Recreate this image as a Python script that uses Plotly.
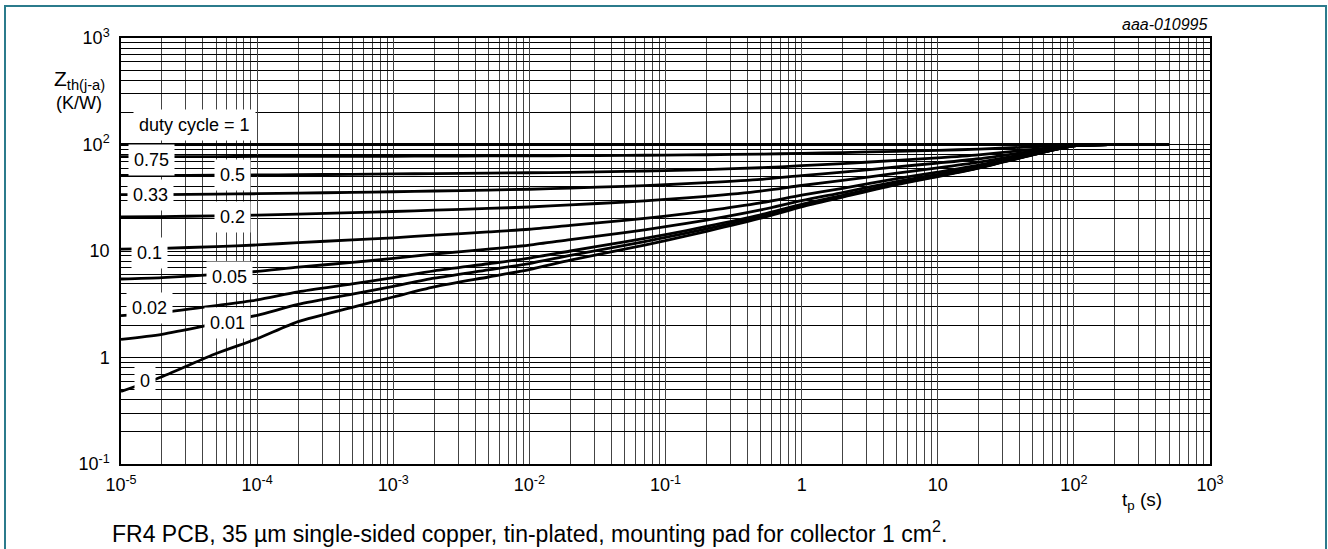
import plotly.graph_objects as go

# ---- data (pulse duration t_p in s, Zth in K/W) ----
t_p = [1e-5, 2e-5, 5e-5, 1e-4, 2e-4, 5e-4, 1e-3, 2e-3, 5e-3, 1e-2, 2e-2, 5e-2,
       0.1, 0.2, 0.5, 1, 2, 5, 10, 20, 50, 100, 200, 500]

z_duty_1 = [100] * 24
z_duty_075 = [77, 77, 77.1, 77.2, 77.3, 77.5, 77.6, 77.8, 78.1, 78.3, 78.6, 79.1,
              79.5, 80.1, 81.3, 82.6, 84, 86.3, 88.2, 90.5, 95.2, 99.3, 100, 100]
z_duty_05 = [51.2, 51.3, 51.5, 51.8, 52.1, 52.5, 52.9, 53.3, 53.8, 54.3, 54.8, 55.9,
             56.9, 58.2, 60.5, 63.2, 66.1, 71, 75, 80, 90, 98.5, 100, 100]
z_duty_033 = [33.8, 33.9, 34.2, 34.5, 35.0, 35.5, 36.0, 36.6, 37.3, 38.0, 39.0, 40.5,
              41.9, 43.8, 47.0, 51, 55, 61.6, 67, 73.5, 86.8, 98, 100, 100]
z_duty_02 = [20.9, 21.0, 21.4, 21.7, 22.2, 22.9, 23.5, 24.2, 25.1, 25.9, 27.1, 28.8,
             30.5, 32.6, 36.5, 41.2, 46, 53.8, 60.2, 68.2, 84, 97.6, 100, 100]
z_duty_01 = [10.4, 10.6, 11.0, 11.4, 12.0, 12.7, 13.3, 14.1, 15.1, 16.0, 17.4, 19.4,
             21.25, 23.8, 28.3, 33.4, 38.8, 47.8, 55, 64, 82, 97.3, 100, 100]
z_duty_005 = [5.46, 5.63, 6.04, 6.43, 7.06, 7.81, 8.52, 9.37, 10.42, 11.37, 12.8, 14.9,
              16.9, 19.5, 24.3, 29.7, 35.4, 44.9, 52.5, 62, 81, 97.15, 100, 100]
z_duty_002 = [2.47, 2.65, 3.07, 3.47, 4.13, 4.90, 5.63, 6.51, 7.59, 8.57, 10.0, 12.2,
              14.25, 17.0, 21.9, 27.48, 33.36, 43.16, 51, 60.8, 80.4, 97.06, 100, 100]
z_duty_001 = [1.48, 1.65, 2.08, 2.49, 3.15, 3.93, 4.66, 5.55, 6.64, 7.63, 9.1, 11.3,
              13.4, 16.1, 21.1, 26.74, 32.68, 42.58, 50.5, 60.4, 80.2, 97.03, 100, 100]
z_duty_0 = [0.48, 0.66, 1.09, 1.5, 2.17, 2.96, 3.7, 4.6, 5.7, 6.7, 8.2, 10.4,
            12.5, 15.3, 20.3, 26, 32, 42, 50, 60, 80, 97, 100, 100]

series_names = ["duty cycle = 1", "0.75", "0.5", "0.33", "0.2", "0.1", "0.05", "0.02", "0.01", "0"]
series_values = [z_duty_1, z_duty_075, z_duty_05, z_duty_033, z_duty_02, z_duty_01,
                 z_duty_005, z_duty_002, z_duty_001, z_duty_0]

x_tick_vals = [1e-5, 1e-4, 1e-3, 1e-2, 1e-1, 1, 10, 100, 1000]
x_tick_text = ["10<sup>-5</sup>", "10<sup>-4</sup>", "10<sup>-3</sup>", "10<sup>-2</sup>",
               "10<sup>-1</sup>", "1", "10", "10<sup>2</sup>", "10<sup>3</sup>"]
y_tick_vals = [0.1, 1, 10, 100, 1000]
y_tick_text = ["10<sup>-1</sup>", "1", "10", "10<sup>2</sup>", "10<sup>3</sup>"]

# ---- label placement (log10 coordinates) ----
label_pos = [
    ("duty cycle = 1", -4.912, 2.181, "left"),
    ("0.75", -4.776, 1.853, "center"),
    ("0.5", -4.181, 1.713, "center"),
    ("0.33", -4.783, 1.525, "center"),
    ("0.2", -4.181, 1.322, "center"),
    ("0.1", -4.787, 0.984, "center"),
    ("0.05", -4.203, 0.753, "center"),
    ("0.02", -4.791, 0.463, "center"),
    ("0.01", -4.217, 0.322, "center"),
    ("0", -4.824, -0.216, "center"),
]

FONT = "Arial, Liberation Sans, sans-serif"

fig = go.Figure()
for name, vals in zip(series_names, series_values):
    fig.add_trace(go.Scatter(x=t_p, y=vals, mode="lines", name=name,
                             line=dict(color="black", width=2.8, shape="spline", smoothing=0.7),
                             showlegend=False))

minor_x = [k * 10.0 ** e for e in range(-5, 3) for k in range(2, 10)]
minor_y = [k * 10.0 ** e for e in range(-1, 3) for k in range(2, 10)]

fig.update_xaxes(type="log", range=[-5, 3], tickvals=x_tick_vals, ticktext=x_tick_text,
                 showgrid=True, gridcolor="#444", gridwidth=1.4,
                 minor=dict(tickvals=minor_x, showgrid=True, gridcolor="#444", gridwidth=1.4, ticks=""),
                 showline=True, linecolor="black", linewidth=1.5, mirror=True,
                 ticks="", ticklabelstandoff=4, zeroline=False,
                 tickfont=dict(family=FONT, size=18, color="black"))
fig.update_yaxes(type="log", range=[-1, 3], tickvals=y_tick_vals, ticktext=y_tick_text,
                 showgrid=True, gridcolor="black", gridwidth=1,
                 minor=dict(tickvals=minor_y, showgrid=True, gridcolor="black", gridwidth=1, ticks=""),
                 showline=True, linecolor="black", linewidth=1.5, mirror=True,
                 ticks="", ticklabelstandoff=6, zeroline=False,
                 tickfont=dict(family=FONT, size=18, color="black"))

annotations = []
for text, lx, ly, anchor in label_pos:
    annotations.append(dict(x=lx, y=ly, xref="x", yref="y", text=text, showarrow=False,
                            xanchor=anchor, yanchor="middle", bgcolor="white", borderpad=5,
                            font=dict(family=FONT, size=18, color="black")))

L, R, T, B = 121, 118, 38, 85
PW, PH = 1328 - L - R, 549 - T - B


def px(xp):
    return (xp - L) / PW


def py(yp):
    return 1 - (yp - T) / PH


annotations += [
    dict(x=1, y=py(25), xref="paper", yref="paper", xanchor="right", yanchor="middle",
         text="<i>aaa-010995</i>", showarrow=False,
         font=dict(family=FONT, size=16, color="black")),
    dict(x=px(79), y=py(80), xref="paper", yref="paper", xanchor="center", yanchor="middle",
         text="Z<sub>th(j-a)</sub>", showarrow=False,
         font=dict(family=FONT, size=21, color="black")),
    dict(x=px(79), y=py(103), xref="paper", yref="paper", xanchor="center", yanchor="middle",
         text="(K/W)", showarrow=False,
         font=dict(family=FONT, size=18, color="black")),
    dict(x=px(1142), y=py(501), xref="paper", yref="paper", xanchor="center", yanchor="middle",
         text="t<sub>p</sub> (s)", showarrow=False,
         font=dict(family=FONT, size=19, color="black")),
    dict(x=px(110), y=py(532), xref="paper", yref="paper", xanchor="left", yanchor="middle",
         text="FR4 PCB, 35 µm single-sided copper, tin-plated, mounting pad for collector 1 cm<sup>2</sup>.",
         showarrow=False, font=dict(family=FONT, size=23, color="black")),
]

frame_color = "#2b7b8c"
shapes = [
    dict(type="line", xref="paper", yref="paper", x0=px(4), x1=px(1327), y0=py(6), y1=py(6),
         line=dict(color=frame_color, width=2)),
    dict(type="line", xref="paper", yref="paper", x0=px(5), x1=px(5), y0=py(6), y1=py(552),
         line=dict(color=frame_color, width=2)),
    dict(type="line", xref="paper", yref="paper", x0=px(1326), x1=px(1326), y0=py(6), y1=py(552),
         line=dict(color=frame_color, width=2)),
]

fig.update_layout(width=1328, height=549, margin=dict(l=L, r=R, t=T, b=B),
                  paper_bgcolor="white", plot_bgcolor="white",
                  annotations=annotations, shapes=shapes,
                  font=dict(family=FONT, color="black"))

fig.write_html("out.html", config={"displayModeBar": False},
               post_script="document.body.style.margin='0';document.body.style.overflow='hidden';")
